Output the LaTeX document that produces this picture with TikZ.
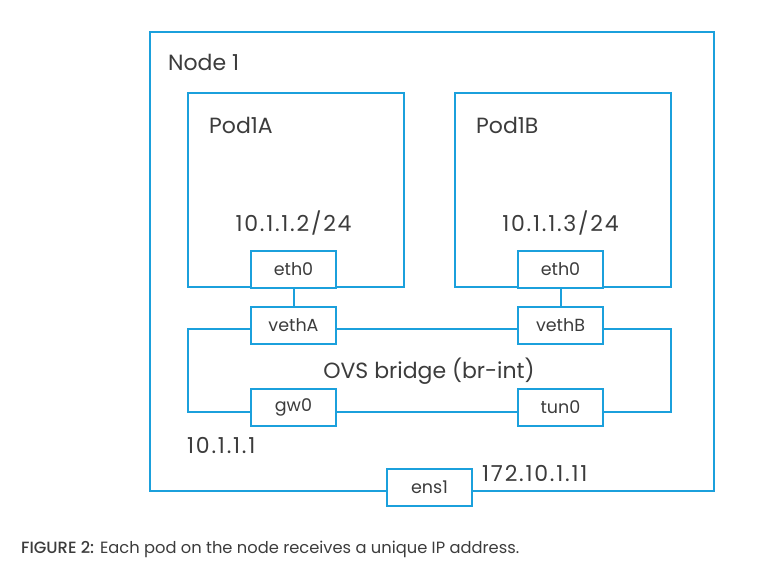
\documentclass[tikz,border=0pt]{standalone}
\usepackage{fontspec}
\setmainfont{Poppins}
\newfontfamily\digfont[LetterSpace=8]{Poppins}
\definecolor{lineblue}{RGB}{27,160,220}
\definecolor{txtgray}{RGB}{60,60,60}
\tikzset{
  box/.style={draw=lineblue, line width=2pt, inner sep=0pt, fill=white},
  port/.style={box, minimum width=85pt, minimum height=37pt, font=\fontsize{17.5}{17.5}\selectfont, text=txtgray},
  bigtxt/.style={font=\fontsize{22}{22}\selectfont, text=txtgray, inner sep=0pt},
  digtxt/.style={font=\fontsize{22}{22}\digfont, text=txtgray, inner sep=0pt},
  wire/.style={draw=lineblue, line width=2pt}
}
\begin{document}
\begin{tikzpicture}[x=1pt,y=-1pt]
\useasboundingbox (0,0) rectangle (781,566);
% node box
\node[box, fill=none, minimum width=564.5pt, minimum height=459pt] (node1) at (431.75,261.5) {};
\node[box, fill=none, minimum width=216pt, minimum height=194pt] (poda) at (296,190) {};
\node[box, fill=none, minimum width=216pt, minimum height=194pt] (podb) at (563,190) {};
% ports
\node[port] (etha) at (293.5,269.5) {eth0};
\node[port] (ethb) at (560.5,269.5) {eth0};
\node[port] (vetha) at (293.5,325) {vethA};
\node[port] (vethb) at (560.5,325) {vethB};
\node[port] (gw) at (293.5,407.5) {gw0};
\node[port] (tun) at (560.5,407.5) {tun0};
\node[port] (ens) at (429.5,487.5) {ens1};
% labels
\node[bigtxt, anchor=base west] (lnode) at (168,70) {Node 1};
\node[bigtxt, anchor=base west] (lpoda) at (209,133) {Pod1A};
\node[bigtxt, anchor=base west] (lpodb) at (476,133) {Pod1B};
\node[digtxt, anchor=base] (ipa) at (293.5,231) {10.1.1.2/24};
\node[digtxt, anchor=base] (ipb) at (560.5,231) {10.1.1.3/24};
\node[bigtxt, anchor=base] (ovs) at (429,378) {OVS bridge (br-int)};
\node[digtxt, anchor=base west] (ipgw) at (187,453) {10.1.1.1};
\node[digtxt, anchor=base west] (ipens) at (482,481) {172.10.1.11};
\node[anchor=base west, inner sep=0pt, text=txtgray, font=\fontsize{16.3}{16.3}\selectfont] (cap) at (21,553) {{\fontspec{Poppins Medium}FIGURE 2:} Each pod on the node receives a unique IP address.};
% wires
\draw[wire] (etha.south) -- (vetha.north);
\draw[wire] (ethb.south) -- (vethb.north);
\draw[wire] ([yshift=-4pt]vetha.east) -- ([yshift=-4pt]vethb.west);
\draw[wire] ([yshift=-4.5pt]gw.east) -- ([yshift=-4.5pt]tun.west);
\draw[wire] ([yshift=-4pt]vetha.west) -| (188,412) -- ([yshift=-4.5pt]gw.west);
\draw[wire] ([yshift=-4pt]vethb.east) -| (671,412) -- ([yshift=-4.5pt]tun.east);
\end{tikzpicture}
\end{document}
